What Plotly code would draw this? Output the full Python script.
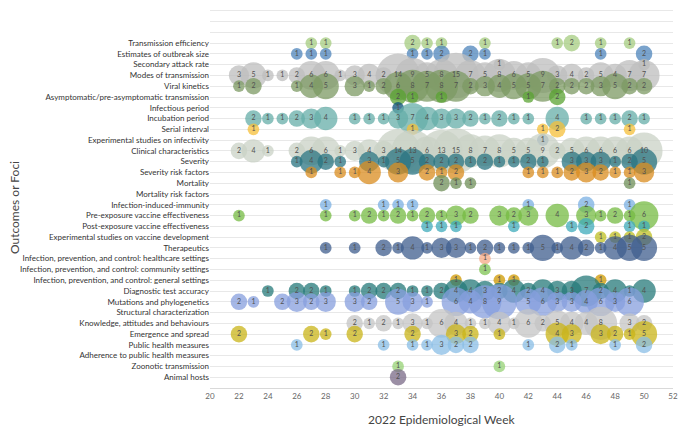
import plotly.graph_objects as go

categories = [
    "Transmission efficiency", "Estimates of outbreak size", "Secondary attack rate",
    "Modes of transmission", "Viral kinetics", "Asymptomatic/pre-asymptomatic transmission",
    "Infectious period", "Incubation period", "Serial interval",
    "Experimental studies on infectivity", "Clinical characteristics", "Severity",
    "Severity risk factors", "Mortality", "Mortality risk factors",
    "Infection-induced-immunity", "Pre-exposure vaccine effectiveness",
    "Post-exposure vaccine effectiveness", "Experimental studies on vaccine development",
    "Therapeutics", "Infection, prevention, and control: healthcare settings",
    "Infection, prevention, and control: community settings",
    "Infection, prevention, and control: general settings", "Diagnostic test accuracy",
    "Mutations and phylogenetics", "Structural characterization",
    "Knowledge, attitudes and behaviours", "Emergence and spread", "Public health measures",
    "Adherence to public health measures", "Zoonotic transmission", "Animal hosts",
]

colors = [
    "#a6cc80", "#4e84bb", "#b6b6b6", "#bdbdbd", "#7c9a63", "#5aa332",
    "#0a4f7a", "#66aea8", "#f5bf38", "#6a8bb0", "#cad2c5", "#2a7482",
    "#da8c1f", "#6f8f58", "#7fa05a", "#7bb0e3", "#76bb43", "#3fabbb",
    "#bfbf23", "#3f5e8e", "#f5aa86", "#7dc351", "#cf9800", "#257a7a",
    "#879fde", "#b0a0d0", "#c4c4c4", "#c9b418", "#89bde6", "#a0a0a0",
    "#96d174", "#796a87",
]

# epidemiological week and number of studies, one pair per outcome
te_wk = [27, 28, 34, 35, 36, 39, 44, 45, 47, 49]
te_n = [1, 1, 2, 1, 1, 1, 1, 2, 1, 1]
eos_wk = [26, 27, 28, 34, 35, 36, 38, 39, 47, 50]
eos_n = [1, 1, 1, 1, 1, 2, 2, 1, 1, 2]
sar_wk = [40, 50]
sar_n = [1, 1]
mot_wk = [22, 23, 24, 25, 26, 27, 28, 29, 30, 31, 32, 33, 34, 35, 36,
          37, 38, 39, 40, 41, 42, 43, 44, 45, 46, 47, 48, 49, 50]
mot_n = [3, 5, 1, 1, 2, 6, 6, 1, 3, 4, 2, 14, 9, 5, 8,
         15, 7, 5, 8, 6, 5, 9, 3, 4, 2, 5, 4, 7, 7]
vk_wk = [22, 23, 26, 27, 28, 30, 31, 32, 33, 34, 35, 36, 37,
         38, 39, 40, 41, 42, 43, 44, 45, 46, 47, 48, 49, 50]
vk_n = [1, 2, 1, 4, 5, 3, 1, 2, 6, 8, 7, 8, 7,
        2, 3, 4, 5, 5, 7, 2, 2, 2, 3, 5, 2, 2]
asym_wk = [33, 34, 36, 42, 44]
asym_n = [2, 1, 1, 1, 2]
inf_wk = [33]
inf_n = [1]
inc_wk = [23, 24, 25, 26, 27, 28, 30, 31, 32, 33, 34, 35, 36,
          37, 38, 39, 40, 41, 42, 44, 46, 47, 48, 49, 50]
inc_n = [2, 1, 1, 2, 3, 4, 1, 1, 1, 3, 7, 4, 3,
         3, 2, 1, 2, 1, 1, 4, 1, 1, 1, 2, 1]
si_wk = [23, 34, 43, 44, 49]
si_n = [1, 1, 1, 2, 1]
esi_wk = [43]
esi_n = [1]
cc_wk = [22, 23, 24, 26, 27, 28, 29, 30, 31, 32, 33, 34, 35, 36,
         37, 38, 39, 40, 41, 42, 43, 44, 45, 46, 47, 48, 49, 50]
cc_n = [2, 4, 1, 2, 6, 6, 1, 3, 4, 3, 14, 13, 6, 13,
        15, 8, 7, 8, 5, 5, 9, 2, 5, 6, 6, 6, 6, 10]
sev_wk = [26, 27, 28, 29, 31, 32, 33, 34, 35, 36, 37, 38,
          39, 40, 41, 42, 43, 45, 46, 47, 48, 49, 50]
sev_n = [1, 4, 2, 1, 3, 1, 5, 5, 2, 2, 2, 1,
         2, 1, 1, 2, 1, 3, 3, 3, 1, 2, 5]
srf_wk = [27, 29, 30, 31, 33, 35, 36, 37, 42, 43, 44, 45, 46, 47, 48, 49, 50]
srf_n = [1, 1, 1, 4, 3, 2, 1, 2, 1, 1, 1, 2, 3, 2, 1, 1, 3]
mort_wk = [36, 37, 38, 49]
mort_n = [2, 1, 1, 1]
mrf_wk = []
mrf_n = []
iii_wk = [28, 32, 33, 34, 42, 46, 49]
iii_n = [1, 1, 1, 1, 1, 2, 1]
pre_wk = [22, 28, 30, 31, 32, 33, 34, 35, 36, 37, 38, 40, 41, 42, 44, 46, 47, 48, 49, 50]
pre_n = [1, 1, 1, 2, 1, 2, 1, 2, 1, 3, 2, 3, 2, 3, 4, 3, 1, 2, 1, 6]
post_wk = [35, 36, 37, 41, 45, 46, 49, 50]
post_n = [1, 1, 1, 1, 1, 2, 1, 1]
evd_wk = [47, 48, 49, 50]
evd_n = [1, 1, 1, 2]
ther_wk = [28, 30, 32, 33, 34, 35, 36, 37, 38, 39, 40,
           41, 42, 43, 44, 45, 46, 47, 48, 49, 50]
ther_n = [1, 1, 2, 1, 4, 1, 3, 3, 1, 2, 1,
          1, 1, 5, 1, 4, 2, 1, 4, 5, 5]
ipch_wk = [39]
ipch_n = [1]
ipcc_wk = [39]
ipcc_n = [1]
ipcg_wk = [37, 40, 41, 47]
ipcg_n = [1, 1, 1, 1]
dta_wk = [24, 26, 27, 28, 30, 31, 32, 33, 34, 35, 36, 37, 38,
          39, 40, 41, 42, 43, 44, 45, 46, 47, 48, 49, 50]
dta_n = [1, 2, 2, 1, 1, 2, 2, 2, 1, 1, 2, 4, 4,
         3, 2, 4, 2, 4, 3, 3, 7, 2, 4, 1, 4]
mut_wk = [22, 23, 25, 26, 27, 28, 30, 31, 33, 34, 35, 37,
          38, 39, 40, 42, 43, 44, 45, 46, 47, 48, 49]
mut_n = [2, 1, 2, 3, 2, 3, 3, 2, 5, 3, 1, 6,
         4, 8, 9, 5, 6, 3, 3, 4, 6, 3, 6]
sc_wk = []
sc_n = []
kab_wk = [30, 31, 32, 33, 34, 35, 36, 37, 38, 39, 40, 41, 42, 43, 44, 45, 46, 47, 49, 50]
kab_n = [2, 1, 2, 1, 3, 1, 6, 4, 1, 1, 4, 1, 6, 2, 5, 4, 4, 8, 3, 2]
es_wk = [22, 27, 28, 30, 34, 37, 38, 40, 44, 45, 47, 48, 49, 50]
es_n = [2, 2, 1, 2, 2, 3, 2, 1, 4, 3, 3, 2, 1, 5]
phm_wk = [26, 32, 34, 35, 36, 37, 38, 42, 44, 45, 48, 50]
phm_n = [1, 1, 1, 1, 3, 2, 2, 1, 2, 1, 1, 2]
adh_wk = []
adh_n = []
zoo_wk = [33, 40]
zoo_n = [1, 1]
ah_wk = [33]
ah_n = [2]

series = [
    (te_wk, te_n), (eos_wk, eos_n), (sar_wk, sar_n), (mot_wk, mot_n),
    (vk_wk, vk_n), (asym_wk, asym_n), (inf_wk, inf_n), (inc_wk, inc_n),
    (si_wk, si_n), (esi_wk, esi_n), (cc_wk, cc_n), (sev_wk, sev_n),
    (srf_wk, srf_n), (mort_wk, mort_n), (mrf_wk, mrf_n), (iii_wk, iii_n),
    (pre_wk, pre_n), (post_wk, post_n), (evd_wk, evd_n), (ther_wk, ther_n),
    (ipch_wk, ipch_n), (ipcc_wk, ipcc_n), (ipcg_wk, ipcg_n), (dta_wk, dta_n),
    (mut_wk, mut_n), (sc_wk, sc_n), (kab_wk, kab_n), (es_wk, es_n),
    (phm_wk, phm_n), (adh_wk, adh_n), (zoo_wk, zoo_n), (ah_wk, ah_n),
]

FONT = "Lato, Roboto, sans-serif"
ncat = len(categories)

fig = go.Figure()
# bubbles first, one trace per outcome (top row drawn first)
for i, (name, col, (wk, n)) in enumerate(zip(categories, colors, series)):
    if not wk:
        continue
    ypos = ncat - 1 - i
    fig.add_trace(go.Scatter(
        x=wk, y=[ypos] * len(wk), mode="markers", name=name,
        marker=dict(size=n, sizemode="area", sizeref=2 / 11.7 ** 2,
                    color=col, opacity=0.75, line=dict(width=0)),
        hoverinfo="skip", showlegend=False, cliponaxis=False,
    ))

# counts on top of every bubble
for i, (wk, n) in enumerate(series):
    if not wk:
        continue
    ypos = ncat - 1 - i
    fig.add_trace(go.Scatter(
        x=wk, y=[ypos] * len(wk), mode="text",
        text=[str(v) for v in n], textposition="middle center",
        textfont=dict(family=FONT, size=7, color="#505050"),
        hoverinfo="skip", showlegend=False, cliponaxis=False,
    ))

# three empty grid rows above the first outcome
tickvals = list(range(ncat + 3))
ticktext = categories[::-1] + ["", "", ""]

fig.update_layout(
    width=700, height=433,
    margin=dict(l=210, r=27, t=0, b=45),
    plot_bgcolor="white", paper_bgcolor="white",
    font=dict(family=FONT, color="#333333"),
    xaxis=dict(range=[20, 52], dtick=2, tick0=20, showgrid=False, zeroline=False,
               showline=True, linecolor="#d9d9d9", linewidth=1,
               tickfont=dict(size=8, color="#666666"), ticks=""),
    yaxis=dict(range=[-1, ncat + 3], tickvals=tickvals, ticktext=ticktext,
               showgrid=True, gridcolor="#e8e8e8", gridwidth=1, zeroline=False,
               tickfont=dict(size=8, color="#333333"), ticks=""),
    annotations=[
        dict(text="2022 Epidemiological Week", xref="paper", yref="paper",
             x=0.5, y=-0.08, xanchor="center", yanchor="middle", showarrow=False,
             font=dict(size=12, color="#444444")),
        dict(text="Outcomes or Foci", xref="paper", yref="paper", textangle=-90,
             x=-0.421, y=0.464, xanchor="center", yanchor="middle", showarrow=False,
             font=dict(size=12, color="#444444")),
    ],
)

# drop the browser's default body margin so the 700x433 figure fills the window
fig.write_html("out.html", config={"displayModeBar": False},
               post_script="document.body.style.margin='0px';")
